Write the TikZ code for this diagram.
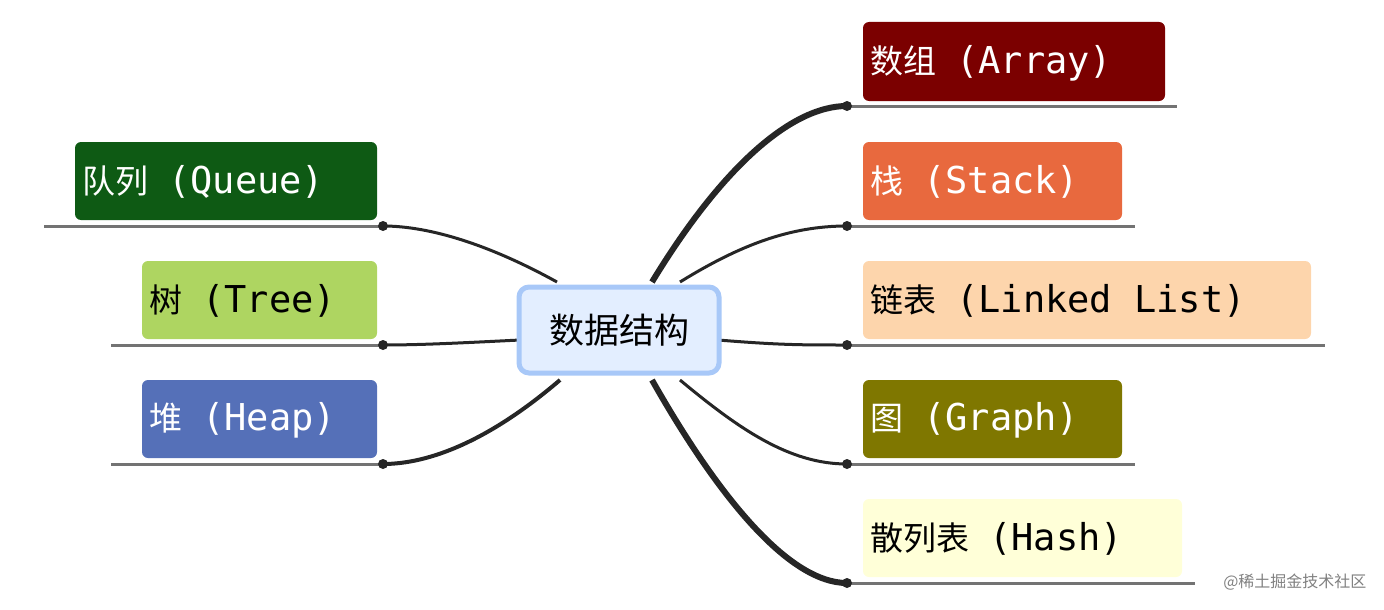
\documentclass[tikz,border=0pt]{standalone}
\usepackage{fontspec}
\setmainfont{DejaVu Sans Mono}
\newfontfamily\cjk{Noto Sans CJK SC}
\begin{document}
\begin{tikzpicture}[x=1pt,y=-1pt,
  uline/.style={draw=gray!90!black,line width=3pt},
  br/.style={draw=black!85,line width=3pt},
  dot/.style={circle,fill=black!85,inner sep=0pt,minimum size=10pt},
  lt/.style={anchor=west,inner sep=0pt,font=\fontsize{37}{40}\selectfont}]
\useasboundingbox (0,0) rectangle (1384,610);
\definecolor{cA}{HTML}{7B0000}\definecolor{cS}{HTML}{E8693E}\definecolor{cL}{HTML}{FDD5AC}
\definecolor{cG}{HTML}{7F7700}\definecolor{cH}{HTML}{FFFFD8}\definecolor{cQ}{HTML}{0E5A14}
\definecolor{cT}{HTML}{AED561}\definecolor{cP}{HTML}{5570B8}
\newcommand{\zh}[1]{{\cjk\fontsize{33}{36}\selectfont #1}\hspace{20pt}}
% underlines
\coordinate (dA) at (847,106); \coordinate (dS) at (847,226); \coordinate (dL) at (847,345);
\coordinate (dG) at (847,464); \coordinate (dH) at (847,583);
\coordinate (dQ) at (383,226); \coordinate (dT) at (383,345); \coordinate (dP) at (383,464);
\draw[uline] (dA) -- (1177,106); \draw[uline] (dS) -- (1135,226); \draw[uline] (dL) -- (1325,345);
\draw[uline] (dG) -- (1135,464); \draw[uline] (dH) -- (1195,583);
\draw[uline] (dQ) -- (44,226); \draw[uline] (dT) -- (111,345); \draw[uline] (dP) -- (111,464);
% boxes
\fill[cA,rounded corners=6pt] (863,22) rectangle (1165,101);
\fill[cS,rounded corners=6pt] (863,142) rectangle (1122,220);
\fill[cL,rounded corners=6pt] (863,261) rectangle (1311,339);
\fill[cG,rounded corners=6pt] (863,380) rectangle (1122,458);
\fill[cH,rounded corners=6pt] (863,499) rectangle (1182,577);
\fill[cQ,rounded corners=6pt] (75,142) rectangle (377,220);
\fill[cT,rounded corners=6pt] (142,261) rectangle (377,339);
\fill[cP,rounded corners=6pt] (142,380) rectangle (377,458);
\node[lt,white] (tA) at (870,63) {\zh{数组}(Array)};
\node[lt,white] (tS) at (870,182) {\zh{栈}(Stack)};
\node[lt,black] (tL) at (870,301) {\zh{链表}(Linked List)};
\node[lt,white] (tG) at (870,420) {\zh{图}(Graph)};
\node[lt,black] (tH) at (870,539) {\zh{散列表}(Hash)};
\node[lt,white] (tQ) at (82,182) {\zh{队列}(Queue)};
\node[lt,black] (tT) at (149,301) {\zh{树}(Tree)};
\node[lt,white] (tP) at (149,420) {\zh{堆}(Heap)};
% branches
\coordinate (sA) at (652,282); \coordinate (sS) at (680,282); \coordinate (sL) at (718,340);
\coordinate (sG) at (680,380); \coordinate (sH) at (652,380);
\coordinate (sQ) at (557,282); \coordinate (sT) at (520,340); \coordinate (sP) at (560,380);
\draw[br,line width=6pt] (sA) .. controls (720,170) and (790,106) .. (dA);
\draw[br] (sS) .. controls (740,245) and (790,226) .. (dS);
\draw[br] (sL) .. controls (780,345) and (800,345) .. (dL);
\draw[br] (sG) .. controls (740,430) and (790,464) .. (dG);
\draw[br,line width=6pt] (sH) .. controls (720,500) and (790,583) .. (dH);
\draw[br] (sQ) .. controls (490,245) and (430,226) .. (dQ);
\draw[br] (sT) .. controls (460,343) and (420,345) .. (dT);
\draw[br,line width=4pt] (sP) .. controls (490,440) and (430,464) .. (dP);
\foreach \d in {dA,dS,dL,dG,dH,dQ,dT,dP} \node[dot] at (\d) {};
% center
\node[draw={rgb,255:red,168;green,200;blue,248},line width=5pt,fill={rgb,255:red,227;green,238;blue,255},
  rounded corners=10pt,minimum width=200pt,minimum height=86pt,font=\cjk\fontsize{35}{38}\selectfont] (c) at (619,330) {数据结构};
\node[anchor=east,text=gray,font=\cjk\fontsize{16}{18}\selectfont] (wm) at (1370,582) {@稀土掘金技术社区};
\end{tikzpicture}
\end{document}
